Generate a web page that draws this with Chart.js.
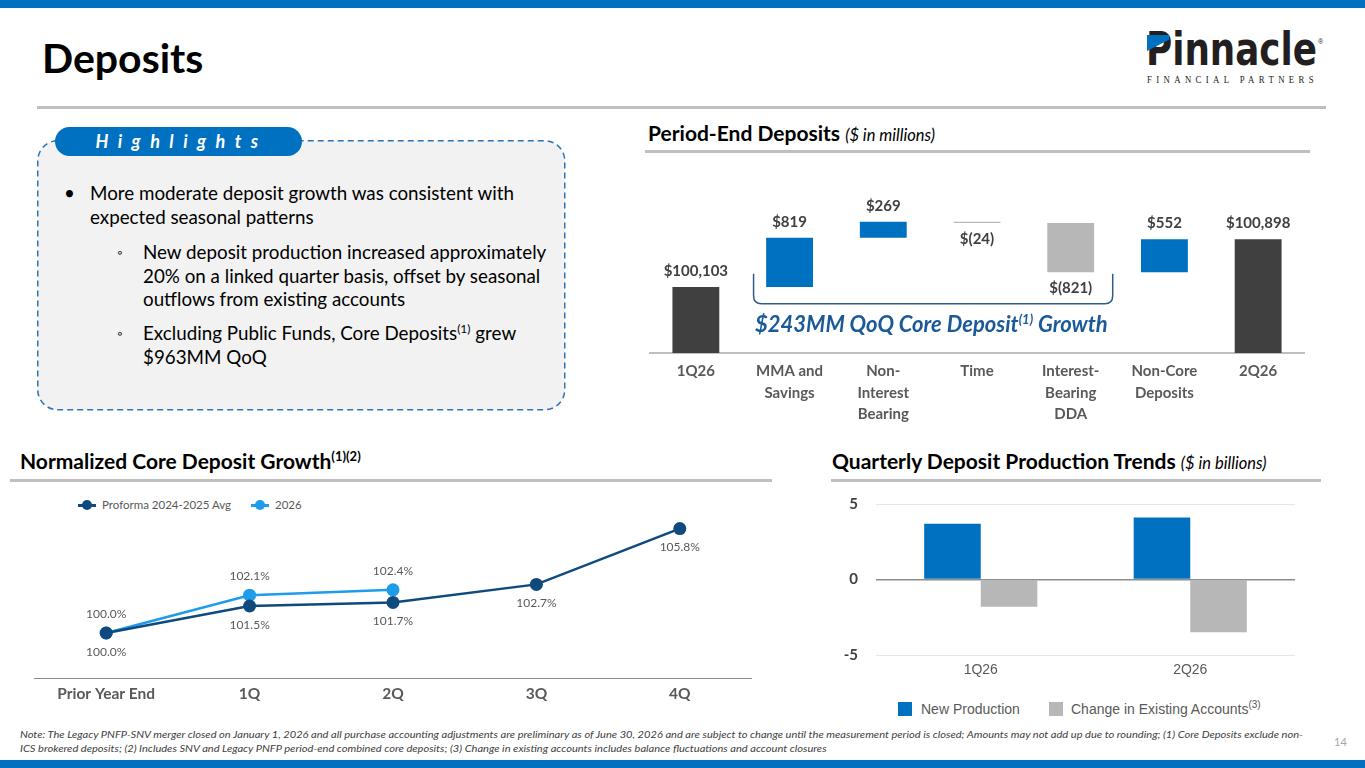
<!DOCTYPE html>
<html>
<head>
<meta charset="utf-8">
<script src="https://cdn.jsdelivr.net/npm/chart.js@4.4.1/dist/chart.umd.min.js"></script>
<style>
body{margin:0;width:1365px;height:768px;position:relative;overflow:hidden;background:#fff;font-family:Lato,"Noto Sans",sans-serif;color:#000}
.abs{position:absolute}
.rule{position:absolute;height:3px;background:#BFBFBF}
.head{position:absolute;font-weight:bold;font-size:21px;line-height:26px;white-space:nowrap}
.head i{font-weight:normal;font-size:16.5px}
.head sup{font-size:13px;line-height:0}
.txt{position:absolute;font-size:18.8px;line-height:24px;white-space:nowrap;color:#000}
.lg{position:absolute;font-family:"Liberation Sans",Arial,sans-serif;font-size:14px;color:#595959;white-space:nowrap;line-height:16px}
.lg sup{font-size:10px;line-height:0}
.ll{position:absolute;font-size:11.5px;color:#595959;white-space:nowrap;line-height:14px}
.note{position:absolute;left:20px;font-style:italic;font-size:9.5px;color:#404040;white-space:nowrap;transform-origin:0 0;line-height:12px}
</style>
</head>
<body>
<div class="abs" style="left:0;top:0;width:1365px;height:8px;background:#0070C0"></div>
<div class="abs" style="left:0;top:760px;width:1365px;height:8px;background:#0070C0"></div>

<div class="abs" style="left:42px;top:34px;font-size:41px;font-weight:bold;line-height:48px">Deposits</div>
<div class="rule" style="left:37px;top:106px;width:1289px"></div>

<!-- logo -->
<div id="logo" class="abs" style="left:1146px;top:22px;font:bold 46px 'Liberation Sans Narrow','DejaVu Sans Condensed',sans-serif;line-height:54px;color:#231F20;transform-origin:0 0;white-space:nowrap">Pinnacle</div>
<div class="abs" style="left:1147px;top:35px;width:22px;height:16px;background:#0070C0;clip-path:polygon(0 0,100% 0,100% 30%,0 100%)"></div>
<div class="abs" style="left:1318px;top:38px;font:7px 'Liberation Sans',sans-serif;color:#231F20">&reg;</div>
<div id="logosub" class="abs" style="left:1147px;top:74px;font:10px 'Liberation Serif',serif;letter-spacing:5px;color:#231F20;transform-origin:0 0;white-space:nowrap;line-height:12px">FINANCIAL PARTNERS</div>

<!-- highlights -->
<svg class="abs" style="left:0;top:0" width="600" height="420">
  <rect x="37.75" y="140.75" width="527" height="269" rx="20" ry="20" fill="#F2F2F2" stroke="#2E75B6" stroke-width="1.5" stroke-dasharray="6 4"/>
</svg>
<div class="abs" style="left:55px;top:127px;width:247px;height:29px;border-radius:15px;background:#0070C0;color:#fff;font-weight:bold;font-style:italic;font-size:18px;letter-spacing:9.5px;line-height:29px;text-align:center;text-indent:6px">Highlights</div>

<div class="txt" style="left:64px;top:181px">&bull;</div>
<div class="txt" style="left:90px;top:181px">More moderate deposit growth was consistent with<br>expected seasonal patterns</div>
<div class="txt" style="left:117px;top:240px;font-size:13px">&#9702;</div>
<div class="txt" style="left:143px;top:240px;line-height:23.5px">New deposit production increased approximately<br>20% on a linked quarter basis, offset by seasonal<br>outflows from existing accounts</div>
<div class="txt" style="left:117px;top:321px;font-size:13px">&#9702;</div>
<div class="txt" style="left:143px;top:321px">Excluding Public Funds, Core Deposits<sup style="font-size:12px;line-height:0">(1)</sup> grew<br>$963MM QoQ</div>

<!-- period-end deposits -->
<div class="head" style="left:648px;top:120px">Period-End Deposits <i>($ in millions)</i></div>
<div class="rule" style="left:645px;top:150px;width:665px"></div>
<canvas id="wf" class="abs" width="656" height="270" style="left:649px;top:160px"></canvas>
<div class="abs" style="left:755px;top:311px;font-weight:bold;font-style:italic;font-size:22px;line-height:26px;color:#1B5A99;white-space:nowrap">$243MM QoQ Core Deposit<sup style="font-size:13px;line-height:0">(1)</sup> Growth</div>

<!-- normalized core deposit growth -->
<div class="head" style="left:20px;top:448px">Normalized Core Deposit Growth<sup>(1)(2)</sup></div>
<div class="rule" style="left:10px;top:479px;width:762px"></div>
<div class="abs" style="left:78px;top:504px;width:18px;height:2.5px;background:#0E4A7E"></div>
<div class="abs" style="left:82px;top:500px;width:10px;height:10px;border-radius:50%;background:#0E4A7E"></div>
<div class="ll" style="left:102px;top:498px">Proforma 2024-2025 Avg</div>
<div class="abs" style="left:251px;top:504px;width:18px;height:2.5px;background:#1E9BEA"></div>
<div class="abs" style="left:255px;top:500px;width:10px;height:10px;border-radius:50%;background:#1E9BEA"></div>
<div class="ll" style="left:275px;top:498px">2026</div>
<canvas id="ln" class="abs" width="730" height="210" style="left:28px;top:500px"></canvas>

<!-- quarterly deposit production -->
<div class="head" style="left:832px;top:448px">Quarterly Deposit Production Trends <i>($ in billions)</i></div>
<div class="rule" style="left:831px;top:479px;width:490px"></div>
<canvas id="qb" class="abs" width="480" height="213" style="left:820px;top:477px"></canvas>
<div class="abs" style="left:898px;top:702px;width:14px;height:14px;background:#0070C0"></div>
<div class="lg" style="left:921px;top:701px">New Production</div>
<div class="abs" style="left:1049px;top:702px;width:14px;height:14px;background:#B7B7B7"></div>
<div class="lg" style="left:1071px;top:701px">Change in Existing Accounts<sup>(3)</sup></div>

<!-- footnote -->
<div id="notes" class="abs" style="left:0;top:729px">
<div id="n1" class="note" style="top:0">Note: The Legacy PNFP-SNV merger closed on January 1, 2026 and all purchase accounting adjustments are preliminary as of June 30, 2026 and are subject to change until the measurement period is closed; Amounts may not add up due to rounding; (1) Core Deposits exclude non-</div>
<div id="n2" class="note" style="top:14px">ICS brokered deposits; (2) Includes SNV and Legacy PNFP period-end combined core deposits; (3) Change in existing accounts includes balance fluctuations and account closures</div>
</div>
<div class="abs" style="left:1334px;top:735px;font-size:11px;color:#A6A6A6">14</div>

<script>
// waterfall data ($ in millions)
const wfLabels = [["1Q26"], ["MMA and", "Savings"], ["Non-", "Interest", "Bearing"], ["Time"], ["Interest-", "Bearing", "DDA"], ["Non-Core", "Deposits"], ["2Q26"]];
const wfStart = 100103;
const wfChanges = [819, 269, -24, -821, 552];
const wfEnd = 100898;
const wfAxisMin = 99000;
const wfAxisMax = 102220;

// normalized core deposit growth (%)
const lineLabels = ["Prior Year End", "1Q", "2Q", "3Q", "4Q"];
const proforma = [100.0, 101.5, 101.7, 102.7, 105.8];
const cur2026 = [100.0, 102.1, 102.4, null, null];

// quarterly production ($ in billions)
const prodLabels = ["1Q26", "2Q26"];
const newProd = [3.7, 4.1];
const existingChg = [-1.8, -3.5];

const BLUE = "#0070C0", DARK = "#404040", GRAY = "#B7B7B7";

Chart.defaults.font.family = "Lato, 'Noto Sans', sans-serif";
Chart.defaults.animation = false;
Chart.defaults.plugins.legend.display = false;
Chart.defaults.plugins.tooltip.enabled = false;

// build floating bars for waterfall
var run = wfStart;
var wfBars = [[wfAxisMin, wfStart]];
var wfValues = [wfStart];
var wfColors = [DARK];
wfChanges.forEach(function (c) {
  wfBars.push([run, run + c]);
  wfValues.push(c);
  wfColors.push(c > 0 ? BLUE : GRAY);
  run += c;
});
wfBars.push([wfAxisMin, wfEnd]);
wfValues.push(wfEnd);
wfColors.push(DARK);

function fmtWf(v, i) {
  if (i === 0 || i === wfValues.length - 1) return "$" + v.toLocaleString("en-US");
  return v < 0 ? "$(" + (-v) + ")" : "$" + v;
}

const wfPlugin = {
  id: "wfLabels",
  afterDatasetsDraw(chart) {
    const ctx = chart.ctx;
    const meta = chart.getDatasetMeta(0);
    ctx.save();
    ctx.font = "bold 15px Lato";
    ctx.fillStyle = DARK;
    ctx.textAlign = "center";
    ctx.textBaseline = "middle";
    meta.data.forEach(function (bar, i) {
      const v = wfValues[i];
      const top = Math.min(bar.y, bar.base), bottom = Math.max(bar.y, bar.base);
      ctx.fillText(fmtWf(v, i), bar.x, v < 0 ? bottom + 16 : top - 16);
    });
    // bracket around the core deposit categories
    const xs = chart.scales.x, ys = chart.scales.y;
    const l = xs.getPixelForValue(1) - 36, r = xs.getPixelForValue(4) + 42;
    const t = ys.getPixelForValue(wfBars[4][1]) + 1.5, b = t + 30, rad = 8;
    ctx.strokeStyle = "#2F5C8A";
    ctx.lineWidth = 1.5;
    ctx.beginPath();
    ctx.moveTo(l, t);
    ctx.lineTo(l, b - rad);
    ctx.quadraticCurveTo(l, b, l + rad, b);
    ctx.lineTo(r - rad, b);
    ctx.quadraticCurveTo(r, b, r, b - rad);
    ctx.lineTo(r, t);
    ctx.stroke();
    ctx.restore();
  }
};

new Chart(document.getElementById("wf"), {
  type: "bar",
  data: {
    labels: wfLabels,
    datasets: [{ data: wfBars, backgroundColor: wfColors, categoryPercentage: 0.5, barPercentage: 1.0 }]
  },
  options: {
    responsive: false,
    layout: { padding: 0 },
    scales: {
      x: {
        grid: { display: false, drawTicks: false },
        border: { display: true, color: "#BFBFBF", width: 2 },
        ticks: { color: "#595959", padding: 8, maxRotation: 0, autoSkip: false, font: { size: 15, weight: "bold", lineHeight: 1.42 } },
        afterFit: function (s) { s.height = 77; }
      },
      y: { display: false, min: wfAxisMin, max: wfAxisMax }
    }
  },
  plugins: [wfPlugin]
});

const linePlugin = {
  id: "lineLabels",
  afterDatasetsDraw(chart) {
    const ctx = chart.ctx;
    ctx.save();
    ctx.font = "12px Lato";
    ctx.fillStyle = "#595959";
    ctx.textAlign = "center";
    ctx.textBaseline = "middle";
    chart.data.datasets.forEach(function (ds, di) {
      chart.getDatasetMeta(di).data.forEach(function (pt, i) {
        if (ds.data[i] === null) return;
        ctx.fillText(ds.data[i].toFixed(1) + "%", pt.x, di === 0 ? pt.y + 19 : pt.y - 19);
      });
    });
    ctx.restore();
  }
};

new Chart(document.getElementById("ln"), {
  type: "line",
  data: {
    labels: lineLabels,
    datasets: [
      { label: "Proforma 2024-2025 Avg", data: proforma, borderColor: "#0E4A7E", backgroundColor: "#0E4A7E", borderWidth: 2.5, pointRadius: 6.5, pointBorderWidth: 0 },
      { label: "2026", data: cur2026, borderColor: "#1E9BEA", backgroundColor: "#1E9BEA", borderWidth: 2.5, pointRadius: 6.5, pointBorderWidth: 0 }
    ]
  },
  options: {
    responsive: false,
    layout: { padding: { top: 16 } },
    scales: {
      x: {
        offset: true,
        grid: { display: false, drawTicks: false },
        border: { display: true, color: "#8C8C8C", width: 1 },
        ticks: { color: "#595959", padding: 7, font: { size: 15.5, weight: "bold" } },
        afterFit: function (s) { s.height = 32; }
      },
      y: { display: false, min: 97.5, max: 106.5 }
    }
  },
  plugins: [linePlugin]
});

new Chart(document.getElementById("qb"), {
  type: "bar",
  data: {
    labels: prodLabels,
    datasets: [
      { label: "New Production", data: newProd, backgroundColor: BLUE, categoryPercentage: 0.54, barPercentage: 1.0 },
      { label: "Change in Existing Accounts", data: existingChg, backgroundColor: GRAY, categoryPercentage: 0.54, barPercentage: 1.0 }
    ]
  },
  options: {
    responsive: false,
    layout: { padding: { top: 1, right: 5 } },
    scales: {
      x: {
        grid: { display: false, drawTicks: false },
        border: { display: false },
        ticks: { color: "#595959", padding: 7, font: { family: "'Liberation Sans', Arial, sans-serif", size: 14 } },
        afterFit: function (s) { s.height = 35; }
      },
      y: {
        min: -5, max: 5,
        grid: {
          drawTicks: false,
          color: function (c) { return c.tick && c.tick.value === 0 ? "#8C8C8C" : "#E6E6E6"; },
          lineWidth: function (c) { return c.tick && c.tick.value === 0 ? 1.5 : 1; }
        },
        border: { display: false },
        ticks: { stepSize: 5, color: "#404040", padding: 18, font: { size: 15, weight: "bold" } },
        afterFit: function (s) { s.width = 56; }
      }
    }
  }
});

// fit logo and footnote widths
function fitWidth(el, target) {
  const w = el.getBoundingClientRect().width;
  if (w > 0) el.style.transform = "scaleX(" + (target / w) + ")";
}
fitWidth(document.getElementById("logo"), 171);
fitWidth(document.getElementById("logosub"), 171);
const n1 = document.getElementById("n1"), n2 = document.getElementById("n2");
const k = 1283 / n1.getBoundingClientRect().width;
n1.style.transform = "scaleX(" + k + ")";
n2.style.transform = "scaleX(" + k + ")";
</script>
</body>
</html>
